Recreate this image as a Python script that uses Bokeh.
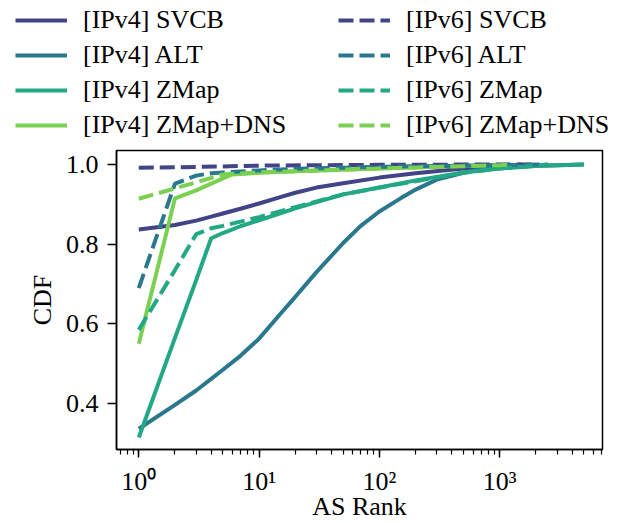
from bokeh.plotting import figure
from bokeh.layouts import column
from bokeh.models import (Legend, LegendItem, FixedTicker, PrintfTickFormatter,
                          CustomJSTickFormatter, Range1d)
from bokeh.embed import file_html
from bokeh.resources import INLINE

# ---- data ----
sv4_x = [1, 2, 3, 4, 5, 7, 10, 15, 20, 30, 50, 100, 200, 500, 1000, 1500]
sv4_y = [0.837, 0.848, 0.859, 0.869, 0.877, 0.889, 0.902, 0.918, 0.929, 0.942, 0.953, 0.967, 0.978, 0.990, 0.996, 1.0]

alt4_x = [1, 2, 3, 4, 5, 7, 10, 15, 20, 30, 50, 70, 100, 150, 200, 300, 500, 700, 1000, 2000, 5000]
alt4_y = [0.337, 0.397, 0.433, 0.462, 0.485, 0.52, 0.563, 0.625, 0.668, 0.73, 0.803, 0.846, 0.882, 0.915, 0.937, 0.962, 0.979, 0.988, 0.992, 0.997, 1.0]

zm4_x = [1, 2, 3, 4, 5, 7, 10, 20, 50, 100, 200, 500, 1000, 2000, 5000]
zm4_y = [0.315, 0.565, 0.71, 0.815, 0.828, 0.845, 0.86, 0.89, 0.925, 0.942, 0.96, 0.98, 0.99, 0.996, 1.0]

zmd4_x = [1, 2, 3, 4, 5, 6, 10, 20, 50, 100, 300, 1000, 1200]
zmd4_y = [0.55, 0.915, 0.935, 0.952, 0.965, 0.975, 0.979, 0.983, 0.987, 0.99, 0.994, 0.999, 1.0]

sv6_x = [1, 2, 5, 10, 100, 1000, 2000]
sv6_y = [0.992, 0.993, 0.995, 0.997, 0.999, 1.0, 1.0]

alt6_x = [1, 2, 3, 4, 5, 10, 20, 50, 100, 300, 1000, 2500]
alt6_y = [0.69, 0.952, 0.972, 0.978, 0.980, 0.985, 0.989, 0.992, 0.994, 0.996, 0.998, 1.0]

zm6_x = [1, 2, 3, 4, 5, 10, 20, 50, 100, 200, 500, 1000, 2500]
zm6_y = [0.585, 0.735, 0.825, 0.84, 0.846, 0.868, 0.893, 0.925, 0.942, 0.958, 0.979, 0.99, 1.0]

zmd6_x = [1, 2, 3, 5, 10, 100, 1000, 1300]
zmd6_y = [0.914, 0.94, 0.955, 0.975, 0.98, 0.99, 0.998, 1.0]

labels4 = ["[IPv4] SVCB", "[IPv4] ALT", "[IPv4] ZMap", "[IPv4] ZMap+DNS"]
labels6 = ["[IPv6] SVCB", "[IPv6] ALT", "[IPv6] ZMap", "[IPv6] ZMap+DNS"]
colors = ["#414487", "#2A788E", "#22A884", "#7AD151"]
y_ticks = [0.4, 0.6, 0.8, 1.0]

FONT = "Liberation Serif"
FS = "26px"
LW = 4
DASH = "15 6"

series4 = [(sv4_x, sv4_y), (alt4_x, alt4_y), (zm4_x, zm4_y), (zmd4_x, zmd4_y)]
series6 = [(sv6_x, sv6_y), (alt6_x, alt6_y), (zm6_x, zm6_y), (zmd6_x, zmd6_y)]

# ---------------- main plot ----------------
p = figure(width=623, height=375, x_axis_type="log",
           x_range=Range1d(0.653, 7150), y_range=Range1d(0.285, 1.035),
           output_backend="svg", toolbar_location=None,
           min_border_left=116, min_border_top=2,
           min_border_right=21, min_border_bottom=74)
p.frame_align = False

p.grid.visible = False
p.outline_line_color = "black"
p.outline_line_width = 1.5
p.background_fill_color = "white"
p.border_fill_color = "white"

for (x, y), c in zip(series4, colors):
    p.line(x, y, line_color=c, line_width=LW)
for (x, y), c in zip(series6, colors):
    p.line(x, y, line_color=c, line_width=LW, line_dash=DASH)

for ax in (p.xaxis[0], p.yaxis[0]):
    ax.axis_line_width = 1.5
    ax.axis_line_color = "black"
    ax.major_tick_line_width = 1.5
    ax.minor_tick_line_width = 1.2
    ax.major_tick_in = 0
    ax.minor_tick_in = 0
    ax.major_label_text_font = FONT
    ax.major_label_text_font_size = FS
    ax.major_label_text_color = "black"
    ax.axis_label_text_font = FONT
    ax.axis_label_text_font_size = FS
    ax.axis_label_text_font_style = "normal"
    ax.axis_label_text_color = "black"

p.xaxis.axis_label = "AS Rank"
p.xaxis.major_tick_out = 8
p.xaxis.minor_tick_out = 5
p.xaxis.major_label_standoff = 9
p.xaxis.axis_label_standoff = -7
p.xaxis.formatter = CustomJSTickFormatter(code="""
const sup = {'0':'\u2070','1':'\u00b9','2':'\u00b2','3':'\u00b3','4':'\u2074','5':'\u2075','6':'\u2076','7':'\u2077','8':'\u2078','9':'\u2079','-':'\u207b'};
const e = Math.round(Math.log10(tick));
return '10' + String(e).split('').map(ch => sup[ch]).join('');
""")

p.yaxis.axis_label = "CDF"
p.yaxis.ticker = FixedTicker(ticks=y_ticks, minor_ticks=[])
p.yaxis.formatter = PrintfTickFormatter(format="%.1f")
p.yaxis.major_tick_out = 9
p.yaxis.minor_tick_out = 0
p.yaxis.major_label_standoff = 9
p.yaxis.axis_label_standoff = 6

# ---------------- legend strip above ----------------
# the series are drawn here too, but outside the visible ranges, so only the key shows
lf = figure(width=623, height=148, x_range=Range1d(-2, -1), y_range=Range1d(-2, -1),
            output_backend="svg", toolbar_location=None,
            x_axis_location=None, y_axis_location=None,
            min_border=0)
lf.frame_align = False
lf.grid.visible = False
lf.outline_line_color = None
lf.background_fill_color = "white"
lf.border_fill_color = "white"

k4 = [lf.line(x, y, line_color=c, line_width=LW) for (x, y), c in zip(series4, colors)]
k6 = [lf.line(x, y, line_color=c, line_width=LW, line_dash=DASH) for (x, y), c in zip(series6, colors)]

def make_legend(labels, rends, loc):
    lg = Legend(items=[LegendItem(label=l, renderers=[r]) for l, r in zip(labels, rends)],
                location=loc, orientation="vertical")
    lg.label_text_font = FONT
    lg.label_text_font_size = FS
    lg.label_text_color = "black"
    lg.glyph_width = 52
    lg.glyph_height = 30
    lg.label_height = 30
    lg.label_standoff = 16
    lg.spacing = 5
    lg.padding = 0
    lg.margin = 0
    lg.border_line_alpha = 0
    lg.background_fill_alpha = 0
    return lg

lf.add_layout(make_legend(labels4, k4, (15, 8)))
lf.add_layout(make_legend(labels6, k6, (338, 8)))

layout = column(lf, p, spacing=0)
open("out.html", "w").write(file_html(layout, INLINE))
